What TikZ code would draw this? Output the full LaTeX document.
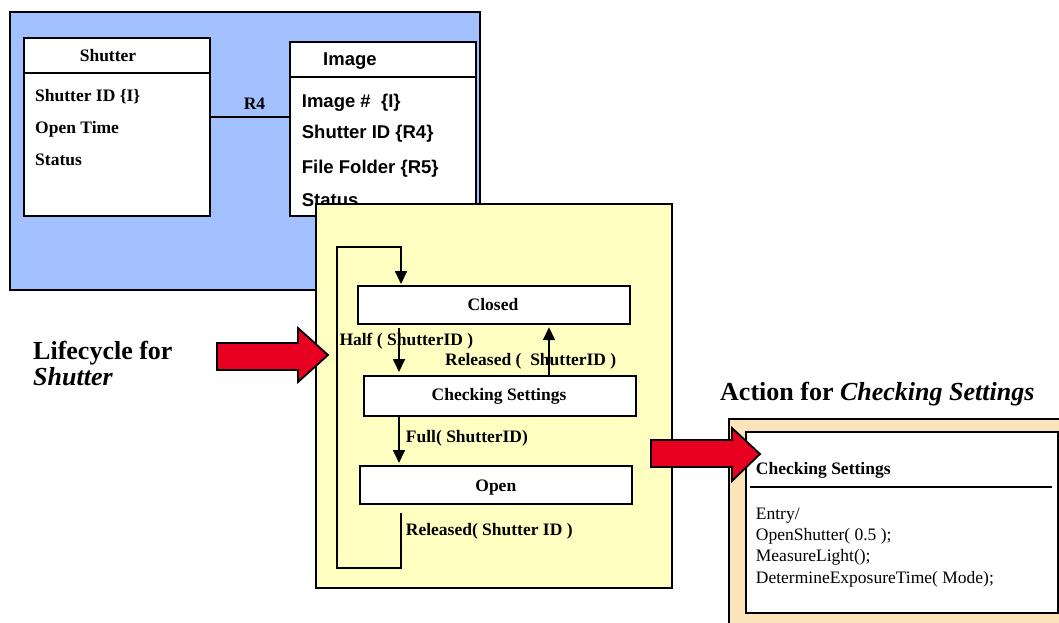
\documentclass[tikz,border=0pt]{standalone}
\usepackage{fontspec}
\setmainfont{Liberation Serif}
\newfontfamily\arialf{Liberation Sans}
\usetikzlibrary{arrows.meta}
\definecolor{bluebg}{RGB}{164,193,255}
\definecolor{yellowbg}{RGB}{255,255,194}
\definecolor{tanbg}{RGB}{252,228,186}
\definecolor{arrred}{RGB}{232,0,32}
\newcommand\fbig{\fontsize{26pt}{30pt}\selectfont\bfseries}
\newcommand\fmid{\fontsize{17.5pt}{21pt}\selectfont\bfseries}
\newcommand\fsansb{\arialf\fontsize{18.5pt}{22pt}\selectfont\bfseries}
\newcommand\freg{\fontsize{17.5pt}{21pt}\selectfont}
\tikzset{
  boxnode/.style={draw, line width=2pt, fill=white, anchor=north west, inner sep=0pt},
  lbl/.style={anchor=base west, inner sep=0pt, font=\fmid},
  sanslbl/.style={anchor=base west, inner sep=0pt, font=\fsansb},
  arr/.style={line width=1.8pt, -{Triangle[length=13pt,width=12pt]}},
  redarrow/.style={draw=black, line width=1.8pt, fill=arrred, line join=miter},
}
\begin{document}
\begin{tikzpicture}[x=1pt,y=-1pt]
\clip (0,0) rectangle (1059,622);
\useasboundingbox (0,0) rectangle (1059,622);

% information model panel
\node[boxnode, fill=bluebg, minimum width=470pt, minimum height=278pt] (infopanel) at (9,11) {};
\node[boxnode, minimum width=186pt, minimum height=178pt] (shutter) at (23,37) {};
\draw[line width=2pt] (23,73) -- (209,73);
\node[boxnode, minimum width=186pt, minimum height=174pt] (image) at (289,41) {};
\draw[line width=2pt] (289,77) -- (477,77);

\node[lbl, anchor=base] (shutterhd) at (108,61.7) {Shutter};
\node[lbl] (sa1) at (35,101) {Shutter ID \{I\}};
\node[lbl] (sa2) at (35,133.3) {Open Time};
\node[lbl] (sa3) at (35,165) {Status};

\node[sanslbl] (imagehd) at (323,65.7) {Image};
\node[sanslbl] (ia1) at (301.7,107.3) {Image \#\ \ \{I\}};
\node[sanslbl] (ia2) at (301.7,138.7) {Shutter ID \{R4\}};
\node[sanslbl] (ia3) at (301.7,173.3) {File Folder \{R5\}};
\node[sanslbl] (ia4) at (301.7,206) {Status};

\coordinate (r4y) at (0,117);
\draw[line width=2pt] (shutter.east |- r4y) -- (image.west |- r4y);
\node[lbl, anchor=base] (r4) at (254.5,109) {R4};

% lifecycle panel
\node[boxnode, fill=yellowbg, minimum width=356pt, minimum height=383.5pt] (lifebox) at (315,203) {};
\node[boxnode, minimum width=272.3pt, minimum height=37.7pt] (closed) at (356.7,285) {};
\node[boxnode, minimum width=272.3pt, minimum height=40pt] (check) at (362.7,375) {};
\node[boxnode, minimum width=272pt, minimum height=37.7pt] (open) at (359,465) {};
\node[lbl, anchor=base] (closedt) at (493,310.7) {Closed};
\node[lbl, anchor=base] (checkt) at (499,400.7) {Checking Settings};
\node[lbl, anchor=base] (opent) at (495.8,491) {Open};

\coordinate (lx) at (401,0);
\coordinate (hx) at (399,0);
\coordinate (rx) at (549,0);
\draw[arr, line join=miter] (open.south -| lx) ++(0,8) -- (401,568) -- (336.7,568) -- (336.7,246.7) -- (401,246.7) -- ([yshift=1pt]closed.north -| lx);
\draw[arr, shorten <=3pt, shorten >=3pt] (closed.south -| hx) -- (check.north -| hx);
\draw[arr, shorten >=2.5pt] (check.north -| rx) -- (closed.south -| rx);
\draw[arr, shorten >=2pt] (check.south -| hx) -- (open.north -| hx);

\node[lbl] (halft) at (339.3,345) {Half ( ShutterID )};
\node[lbl] (relt) at (445,365) {Released (\ \ ShutterID )};
\node[lbl] (fullt) at (405.7,442.7) {Full( ShutterID)};
\node[lbl] (rel2t) at (405.7,535) {Released( Shutter ID )};

% titles
\node[anchor=base west, inner sep=0pt, font=\fbig] (lifet1) at (33,359.3) {Lifecycle for};
\node[anchor=base west, inner sep=0pt, font=\fbig] (lifet2) at (33,385.7) {\itshape Shutter};
\node[anchor=base west, inner sep=0pt, font=\fbig] (actt) at (720,400.7) {Action for \textit{Checking Settings}};

% action panel
\node[boxnode, fill=tanbg, minimum width=342pt, minimum height=222pt] (actbox) at (728,418) {};
\node[boxnode, minimum width=311.7pt, minimum height=181.3pt] (actinner) at (745,431) {};
\node[lbl] (acthd) at (755.7,474) {Checking Settings};
\draw[line width=1.8pt] (750,486.7) -- (1051.7,486.7);
\node[anchor=base west, inner sep=0pt, font=\freg] (ac1) at (755.7,519) {Entry/};
\node[anchor=base west, inner sep=0pt, font=\freg] (ac2) at (755.7,540.5) {OpenShutter( 0.5 );};
\node[anchor=base west, inner sep=0pt, font=\freg] (ac3) at (755.7,561.5) {MeasureLight();};
\node[anchor=base west, inner sep=0pt, font=\freg] (ac4) at (755.7,583) {DetermineExposureTime( Mode);};

% red arrows
\draw[redarrow] (217,343) -- (298,343) -- (298,328) -- (328,355) -- (298,382) -- (298,370) -- (217,370) -- cycle;
\draw[redarrow] (651,440) -- (732,440) -- (732,428) -- (760,454) -- (732,481) -- (732,467) -- (651,467) -- cycle;
\end{tikzpicture}
\end{document}
